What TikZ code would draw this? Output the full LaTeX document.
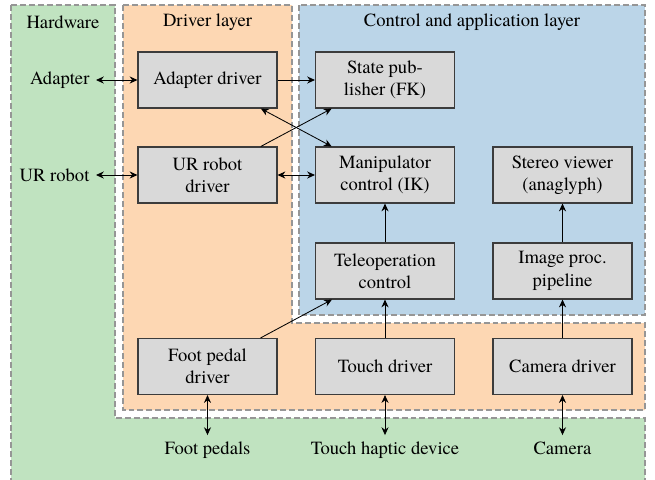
\documentclass[tikz,border=0pt]{standalone}
\usepackage{fontspec}
\setmainfont{texgyretermes}[Extension=.otf, UprightFont=*-regular, BoldFont=*-bold, ItalicFont=*-italic, BoldItalicFont=*-bolditalic]
\usetikzlibrary{arrows.meta}

\definecolor{hwgreen}{RGB}{192,227,192}
\definecolor{drvorange}{RGB}{253,215,179}
\definecolor{ctlblue}{RGB}{187,213,232}
\definecolor{boxgray}{RGB}{217,217,217}
\definecolor{edgegray}{RGB}{150,150,150}
\definecolor{boxedge}{RGB}{60,60,60}

\tikzset{
  region/.style={draw=edgegray, line width=0.6pt, dash pattern=on 3.2pt off 1.6pt},
  block/.style={draw=boxedge, fill=boxgray, line width=0.6pt,
    minimum width=74.7pt, minimum height=30.1pt, align=center, inner sep=2pt},
  device/.style={inner sep=3.33pt},
  bottomdevice/.style={device, text height=7pt, text depth=2pt},
  title/.style={inner sep=0pt},
  link/.style={-{Stealth[length=4.2pt,width=3.8pt]}, line width=0.45pt},
  duplex/.style={{Stealth[length=4.2pt,width=3.8pt]}-{Stealth[length=4.2pt,width=3.8pt]}, line width=0.45pt},
}

\begin{document}
\begin{tikzpicture}[x=0.5376pt, y=-0.5376pt, font=\fontsize{10pt}{12pt}\selectfont]
  \useasboundingbox (0,0) rectangle (655,479);

  % layer backgrounds
  \filldraw[region, fill=hwgreen]
    (11,5) -- (115,5) -- (115,418) -- (645,418) -- (645,490) -- (11,490) -- cycle;
  \filldraw[region, fill=drvorange]
    (123,5) -- (292,5) -- (292,323) -- (645,323) -- (645,410) -- (123,410) -- cycle;
  \filldraw[region, fill=ctlblue]
    (299,5) rectangle (645,315);

  % layer titles
  \node[title] (tHw)  at (63,22)    {Hardware};
  \node[title] (tDrv) at (207.5,22) {Driver layer};
  \node[title] (tCtl) at (472,22)   {Control and application layer};

  % blocks
  \node[block] (adrv)   at (207.5,80)    {Adapter driver};
  \node[block] (urdrv)  at (207.5,175)   {UR robot\\driver};
  \node[block] (fpdrv)  at (207.5,366.5) {Foot pedal\\driver};
  \node[block] (state)  at (385,80)      {State pub-\\lisher (FK)};
  \node[block] (manip)  at (385,175)     {Manipulator\\control (IK)};
  \node[block] (tele)   at (385,271)     {Teleoperation\\control};
  \node[block] (touch)  at (385,366.5)   {Touch driver};
  \node[block] (stereo) at (562.5,175)   {Stereo viewer\\(anaglyph)};
  \node[block] (improc) at (562.5,271)   {Image proc.\\pipeline};
  \node[block] (cam)    at (562.5,366.5) {Camera driver};

  % hardware devices
  \node[device, anchor=east] (hwAdapter) at (96,80)  {Adapter};
  \node[device, anchor=east] (hwUR)      at (96,175) {UR robot};
  \node[bottomdevice] (hwPedal) at (207.5,450) {Foot pedals};
  \node[bottomdevice] (hwTouch) at (385,450)   {Touch haptic device};
  \node[bottomdevice] (hwCam)   at (562.5,450) {Camera};

  % connections
  \draw[duplex] (hwAdapter) -- (adrv);
  \draw[duplex] (hwUR) -- (urdrv);
  \draw[duplex] (hwPedal) -- (fpdrv);
  \draw[duplex] (hwTouch) -- (touch);
  \draw[duplex] (hwCam) -- (cam);

  \draw[link] (adrv) -- (state);
  \draw[link] (urdrv) -- (state);
  \draw[duplex] (adrv) -- (manip);
  \draw[duplex] (urdrv) -- (manip);
  \draw[link] (fpdrv) -- (tele);
  \draw[link] (touch) -- (tele);
  \draw[link] (tele) -- (manip);
  \draw[link] (cam) -- (improc);
  \draw[link] (improc) -- (stereo);
\end{tikzpicture}
\end{document}
